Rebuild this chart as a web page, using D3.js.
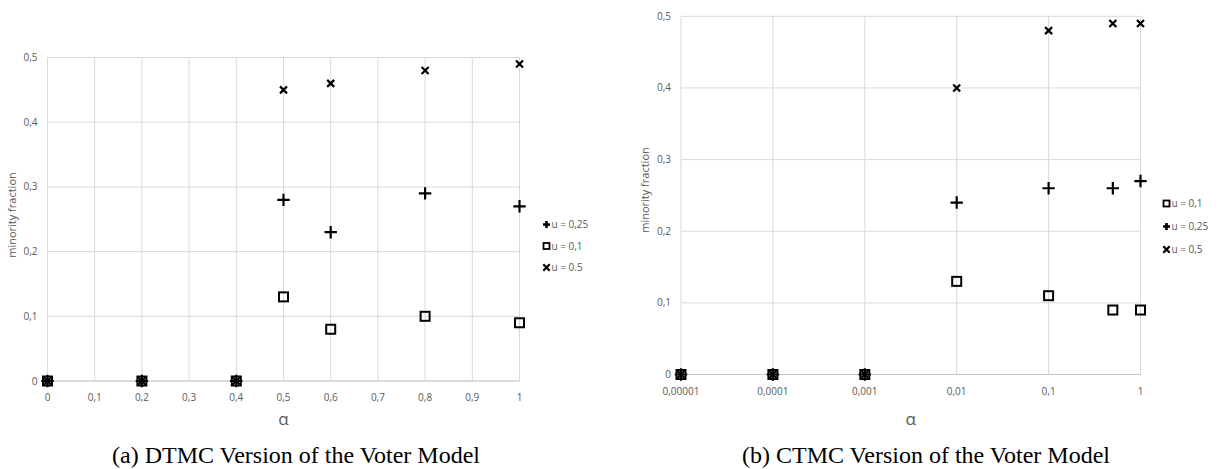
<!DOCTYPE html>
<html>
<head>
<meta charset="utf-8">
<script src="https://cdn.jsdelivr.net/npm/d3@7/dist/d3.min.js"></script>
<style>
  html, body { margin: 0; padding: 0; background: #fff; }
  svg { display: block; }
  .tick-label { font-family: "Open Sans", "Noto Sans", sans-serif; font-size: 10px; fill: #595959; }
  .axis-title { font-family: "Open Sans", "Noto Sans", sans-serif; font-size: 11px; fill: #595959; }
  .legend-label { font-family: "Open Sans", "Noto Sans", sans-serif; font-size: 10px; fill: #595959; }
  .caption { font-family: "Liberation Serif", "DejaVu Serif", serif; font-size: 24px; fill: #000; }
</style>
</head>
<body>
<svg id="chart" width="1225" height="469"></svg>
<script>
// ── Data ─────────────────────────────────────────────────────────────────────
var dtmcAlpha  = [0, 0.2, 0.4, 0.5, 0.6, 0.8, 1];
var dtmcU025   = [0, 0, 0, 0.28, 0.23, 0.29, 0.27];
var dtmcU01    = [0, 0, 0, 0.13, 0.08, 0.10, 0.09];
var dtmcU05    = [0, 0, 0, 0.45, 0.46, 0.48, 0.49];

var ctmcAlpha  = [0.00001, 0.0001, 0.001, 0.01, 0.1, 0.5, 1];
var ctmcU01    = [0, 0, 0, 0.13, 0.11, 0.09, 0.09];
var ctmcU025   = [0, 0, 0, 0.24, 0.26, 0.26, 0.27];
var ctmcU05    = [0, 0, 0, 0.40, 0.48, 0.49, 0.49];

var yTicks     = [0, 0.1, 0.2, 0.3, 0.4, 0.5];
var dtmcXTicks = [0, 0.1, 0.2, 0.3, 0.4, 0.5, 0.6, 0.7, 0.8, 0.9, 1];
var ctmcXTicks = [0.00001, 0.0001, 0.001, 0.01, 0.1, 1];
var ctmcXLabels = ['0,00001', '0,0001', '0,001', '0,01', '0,1', '1'];

var svg = d3.select('#chart');
var GRID = '#d9d9d9';

function comma(v) { return String(+v.toFixed(5)).replace('.', ','); }

// marker painters: centred at (0,0)
function drawMarker(g, kind, big) {
  if (kind === 'square') {
    var s = big ? 9 : 6;
    g.append('rect').attr('x', -s / 2).attr('y', -s / 2).attr('width', s).attr('height', s)
      .attr('fill', 'none').attr('stroke', '#000').attr('stroke-width', big ? 2 : 1.8);
  } else if (kind === 'plus') {
    var p = big ? 6.2 : 3.5;
    g.append('path').attr('d', 'M' + (-p) + ',0H' + p + 'M0,' + (-p) + 'V' + p)
      .attr('stroke', '#000').attr('stroke-width', big ? 2.2 : 2.6).attr('fill', 'none');
  } else {
    var c = big ? 3.5 : 3.2;
    g.append('path').attr('d', 'M' + (-c) + ',' + (-c) + 'L' + c + ',' + c + 'M' + (-c) + ',' + c + 'L' + c + ',' + (-c))
      .attr('stroke', '#000').attr('stroke-width', 2.2).attr('fill', 'none');
  }
}

function drawPanel(cfg) {
  var x = cfg.x, y = cfg.y;
  var g = svg.append('g');
  var x0 = x.range()[0], x1 = x.range()[1];
  var y0 = y.range()[0], y1 = y.range()[1];

  // vertical gridlines
  g.selectAll('line.vg').data(cfg.xTicks).enter().append('line')
    .attr('x1', function (d) { return x(d); }).attr('x2', function (d) { return x(d); })
    .attr('y1', y1).attr('y2', y0).attr('stroke', GRID).attr('stroke-width', 1);
  // horizontal gridlines
  g.selectAll('line.hg').data(yTicks).enter().append('line')
    .attr('x1', x0).attr('x2', x1)
    .attr('y1', function (d) { return y(d); }).attr('y2', function (d) { return y(d); })
    .attr('stroke', GRID).attr('stroke-width', 1);
  // x axis line
  g.append('line').attr('x1', x0).attr('x2', x1).attr('y1', y0).attr('y2', y0)
    .attr('stroke', '#c8c8c8').attr('stroke-width', 1.2);

  // y tick labels
  g.selectAll('text.yt').data(yTicks).enter().append('text')
    .attr('class', 'tick-label').attr('text-anchor', 'end')
    .attr('x', x0 - 10).attr('y', function (d) { return y(d) + 3.5; })
    .text(comma);
  // x tick labels
  g.selectAll('text.xt').data(cfg.xTicks).enter().append('text')
    .attr('class', 'tick-label').attr('text-anchor', 'middle')
    .attr('x', function (d) { return x(d); }).attr('y', y0 + cfg.xLabelDy)
    .text(function (d, i) { return cfg.xLabels ? cfg.xLabels[i] : comma(d); });

  // axis titles
  g.append('text').attr('class', 'axis-title').attr('text-anchor', 'middle')
    .attr('transform', 'translate(' + cfg.yTitleX + ',' + cfg.yTitleY + ') rotate(-90)')
    .text('minority fraction');
  g.append('text').attr('text-anchor', 'middle')
    .attr('x', (x0 + x1) / 2).attr('y', cfg.alphaY)
    .style('font-family', '"Open Sans", "Noto Sans", sans-serif').style('font-size', '17px').style('fill', '#595959')
    .text('α');

  // points
  cfg.series.forEach(function (sr) {
    cfg.xs.forEach(function (xv, i) {
      var m = g.append('g').attr('transform', 'translate(' + x(xv) + ',' + y(sr.values[i]) + ')');
      drawMarker(m, sr.marker, true);
    });
  });

  // legend
  cfg.legend.forEach(function (sr, i) {
    var ly = cfg.legendY + i * cfg.legendStep;
    var m = g.append('g').attr('transform', 'translate(' + cfg.legendX + ',' + ly + ')');
    drawMarker(m, sr.marker, false);
    g.append('text').attr('class', 'legend-label')
      .attr('x', cfg.legendX + 5).attr('y', ly + 3.5).text(sr.label);
  });

  // caption
  var cap = g.append('text').attr('class', 'caption').attr('x', cfg.captionX).attr('y', 463);
  cap.append('tspan').text(cfg.captionTag);
  cap.append('tspan').attr('dx', 6).text(cfg.captionText);
}

// ── Panel (a): DTMC ─────────────────────────────────────────────────────────
var xA = d3.scaleLinear().domain([0, 1]).range([47.5, 519.5]);
var yA = d3.scaleLinear().domain([0, 0.5]).range([381, 57.5]);
var sA25 = { marker: 'plus',   label: 'u = 0,25', values: dtmcU025 };
var sA1  = { marker: 'square', label: 'u = 0,1',  values: dtmcU01 };
var sA5  = { marker: 'cross',  label: 'u = 0.5',  values: dtmcU05 };
drawPanel({
  x: xA, y: yA, xs: dtmcAlpha, xTicks: dtmcXTicks, xLabelDy: 19.5,
  yTitleX: 16, yTitleY: 215, alphaY: 425,
  series: [sA1, sA25, sA5],
  legend: [sA25, sA1, sA5],
  legendX: 546.5, legendY: 224.5, legendStep: 21.5,
  captionX: 112, captionTag: '(a)', captionText: 'DTMC Version of the Voter Model'
});

// ── Panel (b): CTMC ─────────────────────────────────────────────────────────
var xB = d3.scaleLog().domain([0.00001, 1]).range([681, 1140.5]);
var yB = d3.scaleLinear().domain([0, 0.5]).range([374.5, 16.3]);
var sB1  = { marker: 'square', label: 'u = 0,1',  values: ctmcU01 };
var sB25 = { marker: 'plus',   label: 'u = 0,25', values: ctmcU025 };
var sB5  = { marker: 'cross',  label: 'u = 0,5',  values: ctmcU05 };
drawPanel({
  x: xB, y: yB, xs: ctmcAlpha, xTicks: ctmcXTicks, xLabels: ctmcXLabels, xLabelDy: 20,
  yTitleX: 649, yTitleY: 190, alphaY: 425,
  series: [sB1, sB25, sB5],
  legend: [sB1, sB25, sB5],
  legendX: 1166.5, legendY: 203.5, legendStep: 23,
  captionX: 742, captionTag: '(b)', captionText: 'CTMC Version of the Voter Model'
});
</script>
</body>
</html>
